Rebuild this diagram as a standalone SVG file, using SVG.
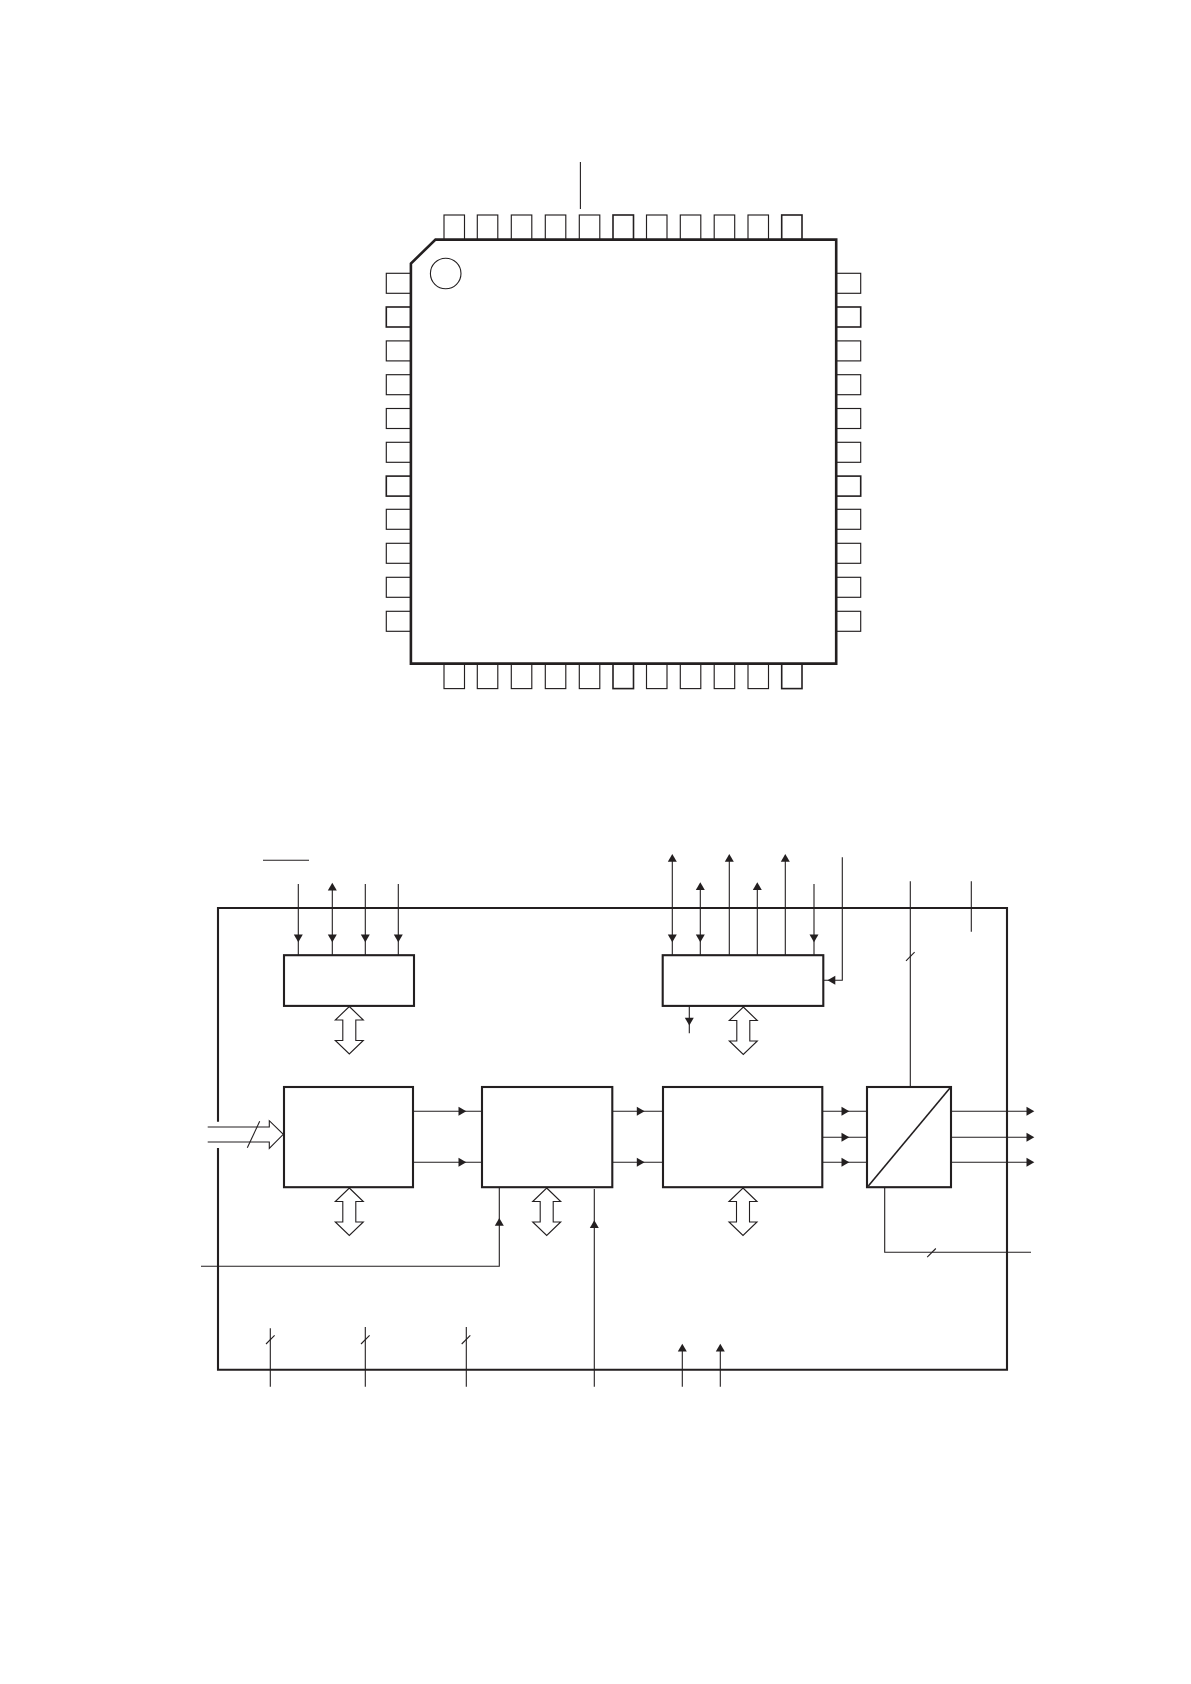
<svg xmlns="http://www.w3.org/2000/svg" width="1191" height="1684" viewBox="0 0 1191 1684">
<style>
.bg{fill:#fff}
.pin{fill:#fff;stroke:#231f20;stroke-width:1.15}
.pinb{fill:#fff;stroke:#231f20;stroke-width:1.6}
.chip{fill:#fff;stroke:#231f20;stroke-width:2.6;stroke-linejoin:miter}
.box{fill:#fff;stroke:#231f20;stroke-width:2.1}
.ln{fill:none;stroke:#231f20;stroke-width:1.1}
.dd{fill:#fff;stroke:#231f20;stroke-width:1.1;stroke-linejoin:miter}
.ah{fill:#231f20;stroke:none}
</style>
<defs>
<polygon id="d" class="ah" points="-4.5,-7.8 4.5,-7.8 0,0"/>
<polygon id="u" class="ah" points="-4.5,7.8 4.5,7.8 0,0"/>
<polygon id="r" class="ah" points="-7.8,-4.5 -7.8,4.5 0,0"/>
<polygon id="l" class="ah" points="7.8,-4.5 7.8,4.5 0,0"/>
<path id="tick" class="ln" d="M-4.3,4.3L4.3,-4.3"/>
<path id="dbl" class="dd" d="M0,0L14,13.5H6.5V34H14L0,47.5L-14,34H-6.5V13.5H-14Z"/>
</defs>
<rect class="bg" width="1191" height="1684"/>
<g id="package">
<g id="pins-top">
<rect class="pin" x="444" y="215" width="20.5" height="24.6"/>
<rect class="pin" x="477.3" y="215" width="20.5" height="24.6"/>
<rect class="pin" x="511.3" y="215" width="20.5" height="24.6"/>
<rect class="pin" x="545.3" y="215" width="20.5" height="24.6"/>
<rect class="pin" x="579.3" y="215" width="20.5" height="24.6"/>
<rect class="pinb" x="613" y="215" width="20.5" height="24.6"/>
<rect class="pin" x="646.5" y="215" width="20.5" height="24.6"/>
<rect class="pin" x="680.3" y="215" width="20.5" height="24.6"/>
<rect class="pin" x="714.2" y="215" width="20.5" height="24.6"/>
<rect class="pin" x="748" y="215" width="20.5" height="24.6"/>
<rect class="pinb" x="781.7" y="215" width="20.3" height="24.6"/>
</g>
<g id="pins-bottom">
<rect class="pin" x="444" y="663.6" width="20.5" height="25"/>
<rect class="pin" x="477.3" y="663.6" width="20.5" height="25"/>
<rect class="pin" x="511.3" y="663.6" width="20.5" height="25"/>
<rect class="pin" x="545.3" y="663.6" width="20.5" height="25"/>
<rect class="pin" x="579.3" y="663.6" width="20.5" height="25"/>
<rect class="pinb" x="613" y="663.6" width="20.5" height="25"/>
<rect class="pin" x="646.5" y="663.6" width="20.5" height="25"/>
<rect class="pin" x="680.3" y="663.6" width="20.5" height="25"/>
<rect class="pin" x="714.2" y="663.6" width="20.5" height="25"/>
<rect class="pin" x="748" y="663.6" width="20.5" height="25"/>
<rect class="pinb" x="781.7" y="663.6" width="20.3" height="25"/>
</g>
<g id="pins-left">
<rect class="pin" x="386.3" y="273.3" width="24.4" height="20"/>
<rect class="pinb" x="386.3" y="307" width="24.4" height="20"/>
<rect class="pin" x="386.3" y="340.9" width="24.4" height="20"/>
<rect class="pin" x="386.3" y="374.7" width="24.4" height="20"/>
<rect class="pin" x="386.3" y="408.5" width="24.4" height="20"/>
<rect class="pin" x="386.3" y="442.3" width="24.4" height="20"/>
<rect class="pinb" x="386.3" y="476.1" width="24.4" height="20"/>
<rect class="pin" x="386.3" y="509.3" width="24.4" height="20"/>
<rect class="pin" x="386.3" y="543.3" width="24.4" height="20"/>
<rect class="pin" x="386.3" y="577.3" width="24.4" height="20"/>
<rect class="pin" x="386.3" y="611.3" width="24.4" height="20"/>
</g>
<g id="pins-right">
<rect class="pin" x="836" y="273.3" width="24.7" height="20"/>
<rect class="pinb" x="836" y="307" width="24.7" height="20"/>
<rect class="pin" x="836" y="340.9" width="24.7" height="20"/>
<rect class="pin" x="836" y="374.7" width="24.7" height="20"/>
<rect class="pin" x="836" y="408.5" width="24.7" height="20"/>
<rect class="pin" x="836" y="442.3" width="24.7" height="20"/>
<rect class="pinb" x="836" y="476.1" width="24.7" height="20"/>
<rect class="pin" x="836" y="509.3" width="24.7" height="20"/>
<rect class="pin" x="836" y="543.3" width="24.7" height="20"/>
<rect class="pin" x="836" y="577.3" width="24.7" height="20"/>
<rect class="pin" x="836" y="611.3" width="24.7" height="20"/>
</g>
<path id="chip-body" class="chip" d="M435.5,239.6H836.2V663.6H410.9V263.5Z"/>
<circle id="pin1-mark" class="ln" cx="445.7" cy="273.5" r="15.3"/>
<path id="pin-lead" class="ln" d="M580.4,162V209"/>
</g>
<g id="outer-box"><path class="box" style="fill:none" d="M218,1121.7V908H1007V1369.7H218V1148"/></g>
<g id="overbar"><path class="ln" d="M263,860.3H309"/></g>
<g id="connectors">
<path class="ln" d="M298.3,884V955M332.3,886V955M365.3,884V955M398.3,884V955"/>
<use href="#d" x="298.3" y="942.3"/><use href="#u" x="332.3" y="882.7"/><use href="#d" x="332.3" y="942.3"/><use href="#d" x="365.3" y="942.3"/><use href="#d" x="398.3" y="942.3"/>
<path class="ln" d="M672.3,858V955M700.3,886V955M729.3,858V955M757.3,886V955M785.3,858V955M814,884V955"/>
<use href="#u" x="672.3" y="854"/><use href="#d" x="672.3" y="942.3"/><use href="#u" x="700.3" y="882.3"/><use href="#d" x="700.3" y="942.3"/><use href="#u" x="729.3" y="854"/><use href="#u" x="757.3" y="882.3"/><use href="#u" x="785.3" y="854"/><use href="#d" x="814" y="942.3"/>
<path class="ln" d="M842.3,857.3V980.3H823.3"/><use href="#l" x="827.5" y="980.3"/>
<path class="ln" d="M689.3,1005.7V1033.3"/><use href="#d" x="689.3" y="1025.5"/>
<path class="ln" d="M910.3,881.3V1087"/><use href="#tick" x="910.3" y="956.5"/>
<path class="ln" d="M971.3,881.3V931.7"/>
<use href="#dbl" x="349.3" y="1006.5"/><use href="#dbl" x="743.3" y="1007"/>
<use href="#dbl" x="349.3" y="1188"/><use href="#dbl" x="546.7" y="1188"/><use href="#dbl" x="743" y="1188"/>
<path class="ln" d="M413,1111.3H482M413,1162.3H482M612.3,1111.3H663M612.3,1162.3H663M822.3,1111.3H867M822.3,1137.3H867M822.3,1162.3H867M951,1111.3H1030M951,1137.3H1030M951,1162.3H1030"/>
<use href="#r" x="466.3" y="1111.3"/><use href="#r" x="466.3" y="1162.3"/><use href="#r" x="644.6" y="1111.3"/><use href="#r" x="644.6" y="1162.3"/><use href="#r" x="849.3" y="1111.3"/><use href="#r" x="849.3" y="1137.3"/><use href="#r" x="849.3" y="1162.3"/><use href="#r" x="1034.3" y="1111.3"/><use href="#r" x="1034.3" y="1137.3"/><use href="#r" x="1034.3" y="1162.3"/>
<path class="ln" d="M207.7,1127H269.3V1120.7L283.3,1134.3L269.3,1148.3V1142H207.7"/>
<path class="ln" d="M247.3,1147.7L259.7,1121.3"/>
<path class="ln" d="M201,1266.3H499.3V1187"/><use href="#u" x="499.3" y="1218"/>
<path class="ln" d="M594.3,1386.7V1189"/><use href="#u" x="594.3" y="1220.3"/>
<path class="ln" d="M270.3,1328.3V1386.7M365.3,1327V1386.7M466.3,1327V1386.7"/>
<use href="#tick" x="270.3" y="1339.7"/><use href="#tick" x="365.3" y="1339.7"/><use href="#tick" x="466" y="1339.7"/>
<path class="ln" d="M682.3,1348V1386.7M720.3,1348V1386.7"/><use href="#u" x="682.3" y="1343.7"/><use href="#u" x="720.3" y="1343.7"/>
<path class="ln" d="M884.7,1187V1252.3H1031"/><use href="#tick" x="931.5" y="1252.8"/>
</g>
<g id="block-top-left"><rect class="box" x="284" y="955.2" width="130" height="50.7"/></g>
<g id="block-top-right"><rect class="box" x="662.7" y="955.2" width="160.6" height="50.7"/></g>
<g id="block-1"><rect class="box" x="284" y="1087" width="129" height="100.2"/></g>
<g id="block-2"><rect class="box" x="482" y="1087" width="130.3" height="100.2"/></g>
<g id="block-3"><rect class="box" x="663" y="1087" width="159.3" height="100.2"/></g>
<g id="block-converter"><rect class="box" x="867" y="1087" width="84" height="100.2"/><path class="ln" style="stroke-width:1.6" d="M868.3,1186L950,1087.9"/></g>
</svg>
